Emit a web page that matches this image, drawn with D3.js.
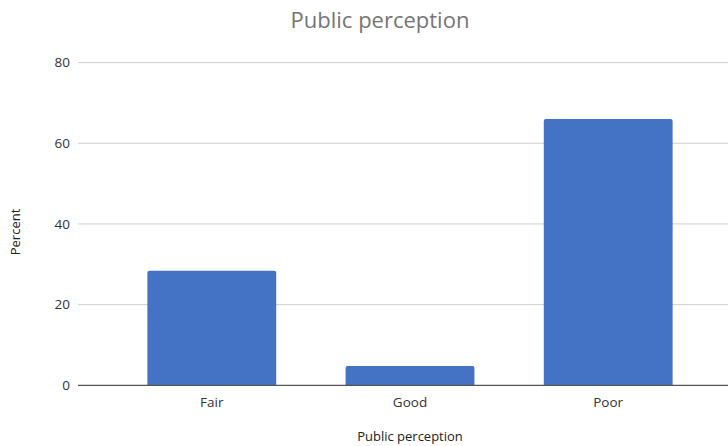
<!DOCTYPE html>
<html><head><meta charset="utf-8">
<script src="https://cdn.jsdelivr.net/npm/d3@7"></script>
<style>body{margin:0;background:#fff;overflow:hidden}svg{display:block}</style>
</head><body><svg id="c" width="728" height="446"></svg>
<script>
const categories = ["Fair", "Good", "Poor"];
const percentValues = [28.4, 4.8, 66.0];
const yTicks = [0, 20, 40, 60, 80];
const title = "Public perception";
const xTitle = "Public perception";
const yTitle = "Percent";

const svg = d3.select("#c");
const font = "'Open Sans', 'Noto Sans', sans-serif";
const x = d3.scaleBand().domain(categories).range([78, 742]).padding(0.35);
const y = d3.scaleLinear().domain([0, 80]).range([385.3, 62.6]);

// gridlines
svg.append("g").selectAll("line").data(yTicks.filter(t => t !== 0)).join("line")
  .attr("x1", 78).attr("x2", 728).attr("y1", d => y(d)).attr("y2", d => y(d))
  .attr("stroke", "#d0d0d0").attr("stroke-width", 1);

// y tick labels
svg.append("g").selectAll("text").data(yTicks).join("text")
  .attr("x", 70).attr("y", d => y(d)).attr("dy", "0.35em")
  .attr("text-anchor", "end").attr("font-family", font).attr("font-size", 13.5)
  .attr("fill", "#333").text(d => d);

// bars with slightly rounded tops
const r = 2;
svg.append("g").selectAll("path").data(categories).join("path")
  .attr("fill", "#4472C4")
  .attr("d", (c, i) => {
    const x0 = x(c), w = x.bandwidth(), y0 = y(percentValues[i]), yb = y(0);
    return `M${x0},${yb}V${y0 + r}Q${x0},${y0} ${x0 + r},${y0}H${x0 + w - r}Q${x0 + w},${y0} ${x0 + w},${y0 + r}V${yb}Z`;
  });

// baseline
svg.append("line").attr("x1", 78).attr("x2", 728).attr("y1", y(0)).attr("y2", y(0))
  .attr("stroke", "#555").attr("stroke-width", 1.2);

// x category labels
svg.append("g").selectAll("text").data(categories).join("text")
  .attr("x", c => x(c) + x.bandwidth() / 2).attr("y", 407)
  .attr("text-anchor", "middle").attr("font-family", font).attr("font-size", 13.5)
  .attr("fill", "#333").text(c => c);

// title
svg.append("text").attr("x", 380).attr("y", 28).attr("text-anchor", "middle")
  .attr("font-family", font).attr("font-size", 22).attr("fill", "#757575").text(title);

// axis titles
svg.append("text").attr("x", 410).attr("y", 441).attr("text-anchor", "middle")
  .attr("font-family", font).attr("font-size", 13).attr("fill", "#222").text(xTitle);
svg.append("text").attr("transform", "translate(20,232) rotate(-90)")
  .attr("text-anchor", "middle").attr("font-family", font).attr("font-size", 13)
  .attr("fill", "#222").text(yTitle);
</script></body></html>
